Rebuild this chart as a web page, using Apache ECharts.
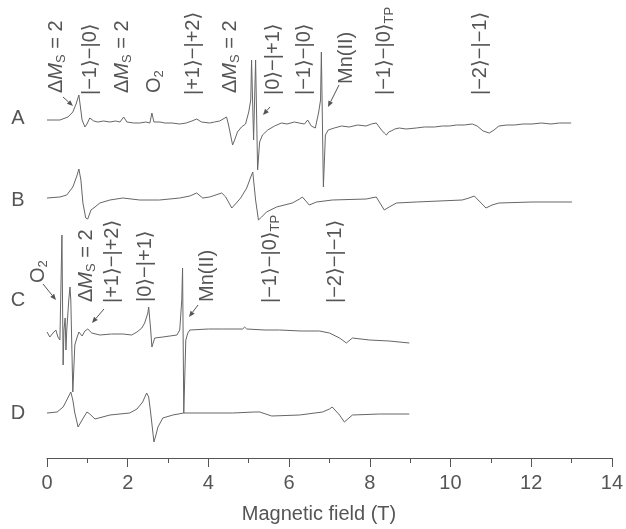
<!DOCTYPE html>
<html>
<head>
<meta charset="utf-8">
<script src="https://cdn.jsdelivr.net/npm/echarts@6/dist/echarts.min.js"></script>
<style>html,body{margin:0;padding:0;background:#fff}#c{width:626px;height:529px}</style>
</head>
<body>
<div id="c"></div>
<script>
// Field values (T) and relative signal (arbitrary units, up = positive) for each trace
const fieldA = [0.00,0.32,0.52,0.64,0.72,0.79,0.82,0.87,0.94,0.99,1.06,1.16,1.26,1.40,1.56,1.70,1.81,1.90,1.98,2.15,2.30,2.45,2.55,2.60,2.65,2.80,2.92,3.10,3.29,3.45,3.59,3.71,3.83,4.03,4.15,4.28,4.45,4.50,4.60,4.65,4.72,4.82,4.92,5.00,5.05,5.07,5.12,5.17,5.22,5.27,5.34,5.47,5.64,5.81,5.95,6.13,6.25,6.38,6.46,6.55,6.65,6.73,6.78,6.80,6.85,6.90,6.97,7.12,7.30,7.49,7.70,7.91,8.04,8.16,8.29,8.36,8.41,8.47,8.53,8.62,8.73,8.90,9.15,9.35,9.60,9.80,9.97,10.15,10.34,10.54,10.66,10.81,10.96,11.08,11.20,11.40,11.58,11.80,12.02,12.25,12.49,12.70,12.99];
const signalA = [0,0,3,8,16,25,23,0,-7,-4,2,-1,-2,-1,-2,-1,-2,3,-2,-3,-3,-2,-3,7,-2,-2,-3,-3,-4,-3,-1,1,-2,-3,-2,-1,3,-5,-25,-20,-12,-7,-4,8,20,60,-20,60,-50,-22,-15,-10,-6,-3,-4,-2,-3,-4,0,-6,-8,7,20,68,-67,-15,-10,-8,-6,-7,-5,-6,-4,-3,-10,-13,-15,-12,-11,-9,-8,-9,-8,-7,-7,-6,-6,-5,-5,-4,-6,-11,-13,-10,-6,-5,-5,-4,-4,-3,-4,-3,-3];

const fieldB = [0.00,0.32,0.49,0.64,0.74,0.79,0.84,0.89,0.96,1.01,1.09,1.19,1.31,1.56,1.88,2.30,2.79,3.29,3.54,3.71,3.86,4.03,4.33,4.43,4.58,4.67,4.80,4.95,5.05,5.10,5.17,5.24,5.32,5.44,5.69,6.08,6.26,6.33,6.50,6.68,7.07,7.91,8.16,8.36,8.48,8.66,9.15,10.29,10.46,10.59,10.88,11.03,11.20,12.02,13.01];
const signalB = [2,3,5,13,24,31,20,-3,-18,-19,-10,-7,-3,0,2,0,0,2,4,7,2,3,7,3,-8,-4,2,12,23,28,0,-20,-17,-12,-7,-3,1,3,-5,-2,0,1,3,-10,-7,-3,-2,0,2,4,-8,-5,-3,-2,-2];

const fieldC = [0.00,0.07,0.15,0.22,0.27,0.32,0.35,0.37,0.40,0.42,0.45,0.47,0.49,0.54,0.57,0.59,0.64,0.69,0.74,0.79,0.87,0.94,1.01,1.11,1.31,1.60,1.88,2.10,2.23,2.35,2.42,2.50,2.52,2.57,2.60,2.67,2.87,3.22,3.29,3.34,3.36,3.39,3.44,3.49,3.54,4.00,4.35,4.85,4.90,4.95,5.40,5.76,6.30,6.75,7.00,7.25,7.42,7.57,7.99,8.48,8.98];
const signalC = [1,-4,0,3,-4,-7,-5,98,-32,3,15,-17,3,33,46,33,-59,-12,-5,1,-3,2,4,0,-2,-1,-1,-2,1,5,10,20,26,3,-14,-5,-4,-2,3,33,65,-80,-7,0,3,4,4,4,6,4,3,3,2,2,0,-5,-10,-5,-7,-8,-10];

const fieldD = [0.00,0.25,0.40,0.49,0.59,0.64,0.69,0.77,0.87,0.99,1.06,1.19,1.56,2.05,2.23,2.37,2.47,2.52,2.57,2.65,2.70,2.75,2.87,3.12,3.39,4.60,5.14,5.27,5.57,6.26,6.83,7.00,7.07,7.25,7.37,7.57,8.24,8.98];
const signalD = [0,1,6,13,21,13,0,-14,-7,1,-1,-6,-2,0,4,11,20,16,0,-29,-22,-14,-5,-2,0,0,1,1,-3,-2,1,4,6,-2,-9,-2,-1,-1];

const traceNames = ['A','B','C','D'];
const xTickLabels = [0,2,4,6,8,10,12,14];

// vertical stacking of the traces (layout)
const offsets = {A:338, B:258, C:125, D:45};

const FONT = '"Liberation Sans", Arial, "DejaVu Sans", sans-serif';
const TXT = '#555555';
const LINE = '#666666';

function mk(f, s, off){ return f.map((v,i)=>[v, off + s[i]]); }

const chart = echarts.init(document.getElementById('c'), null, {renderer:'canvas'});

const rich = {
  i: {fontStyle:'italic', fontSize:20, fontFamily:FONT, fill:TXT, lineHeight:24},
  n: {fontSize:20, fontFamily:FONT, fill:TXT, lineHeight:24},
  s: {fontSize:13, fontFamily:FONT, fill:TXT, lineHeight:12, verticalAlign:'bottom'}
};
const DMS = '{n|Δ}{i|M}{s|S}{n| = 2}';
const annotations = [
  [56,93,DMS],[90,95,'|−1⟩−|0⟩'],[122,93,DMS],[154,93,'O{s|2}'],[193,95,'|+1⟩−|+2⟩'],
  [230,93,DMS],[273,95,'|0⟩−|+1⟩'],[304,95,'|−1⟩−|0⟩'],[346,84,'Mn(II)'],
  [384,95,'|−1⟩−|0⟩{s|TP}'],[480,95,'|−2⟩−|−1⟩'],
  [38,283,'O{s|2}'],[86,302,DMS],[112,303,'|+1⟩−|+2⟩'],[145,302,'|0⟩−|+1⟩'],
  [207,302,'Mn(II)'],[270,303,'|−1⟩−|0⟩{s|TP}'],[335,303,'|−2⟩−|−1⟩']
];
const arrows = [
  [63,97,73,106],[270,107,263,115],[339,85,328,107],
  [43,284,56,300],[104,309,92,323],[198,305,189,317]
];

const graphic = [];
annotations.forEach(a=>{
  graphic.push({type:'text', x:a[0], y:a[1], rotation:Math.PI/2,
    style:{text:a[2], rich:rich, fontSize:20, fontFamily:FONT, fill:TXT, lineHeight:24,
      align:'left', verticalAlign:'middle'}});
});
arrows.forEach(a=>{
  const [x1,y1,x2,y2] = a;
  const ang = Math.atan2(y2-y1, x2-x1);
  const L = 6, W = 2.5;
  const bx = x2 - L*Math.cos(ang), by = y2 - L*Math.sin(ang);
  const px = -Math.sin(ang)*W, py = Math.cos(ang)*W;
  graphic.push({type:'line', shape:{x1,y1,x2:bx,y2:by}, style:{stroke:'#555', lineWidth:1}});
  graphic.push({type:'polygon', shape:{points:[[x2,y2],[bx+px,by+py],[bx-px,by-py]]}, style:{fill:'#555'}});
});
const letterY = {A:118, B:200, C:300, D:413};
traceNames.forEach(n=>{
  graphic.push({type:'text', x:18, y:letterY[n], style:{text:n, fontSize:20, fontFamily:FONT, fill:TXT, align:'center', verticalAlign:'middle'}});
});
graphic.push({type:'text', x:319, y:514, style:{text:'Magnetic field (T)', fontSize:20, fontFamily:FONT, fill:TXT, align:'center', verticalAlign:'middle'}});

const lineSeries = (name, data) => ({
  name, type:'line', data, showSymbol:false, symbol:'none', smooth:false,
  lineStyle:{color:LINE, width:1}, itemStyle:{color:LINE}, clip:false, z:2
});

chart.setOption({
  animation:false,
  backgroundColor:'#fff',
  grid:{left:47, right:13, top:0, bottom:71, containLabel:false},
  xAxis:{type:'value', min:0, max:14, interval:2,
    axisLine:{show:true, lineStyle:{color:'#555', width:1}},
    axisTick:{show:true, inside:false, length:9, lineStyle:{color:'#555'}},
    minorTick:{show:true, splitNumber:2, length:5, lineStyle:{color:'#555'}},
    splitLine:{show:false}, minorSplitLine:{show:false},
    axisLabel:{fontSize:20, fontFamily:FONT, color:TXT, margin:15,
      formatter:v=> xTickLabels.indexOf(v) >= 0 ? String(v) : ''}},
  yAxis:{type:'value', min:0, max:458, show:false, splitLine:{show:false}},
  series:[
    lineSeries('A', mk(fieldA, signalA, offsets.A)),
    lineSeries('B', mk(fieldB, signalB, offsets.B)),
    lineSeries('C', mk(fieldC, signalC, offsets.C)),
    lineSeries('D', mk(fieldD, signalD, offsets.D))
  ],
  graphic
});
</script>
</body>
</html>
